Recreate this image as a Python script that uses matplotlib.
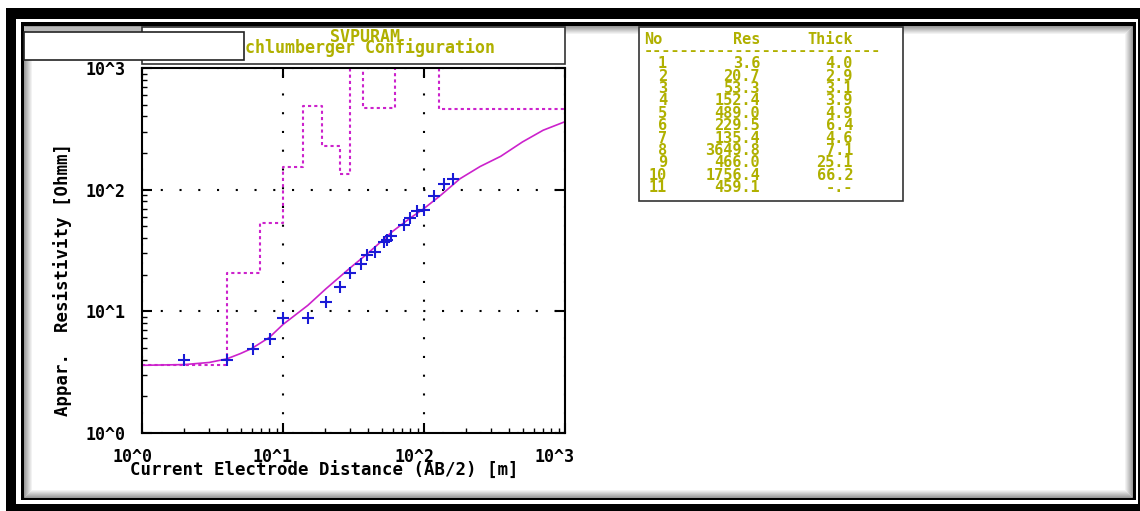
import matplotlib
matplotlib.use('Agg')
import matplotlib.pyplot as plt
import numpy as np
from matplotlib.patches import Rectangle
from matplotlib.ticker import FixedLocator, FixedFormatter, LogLocator, NullFormatter
from matplotlib.transforms import ScaledTranslation

# field data (AB/2 in m, apparent resistivity in Ohm m)
ab2 = [2.0, 4.0, 6.1, 8.1, 10.0, 15.1, 20.2, 25.5, 30.0, 35.6, 39.6, 45.2,
       52.0, 54.4, 58.3, 71.8, 80.0, 89.2, 100.5, 118.0, 139.0, 160.0]
rho_obs = [4.0, 4.0, 4.9, 5.9, 8.8, 8.8, 11.9, 15.9, 20.7, 24.5, 29.2, 30.9,
           37.2, 38.3, 41.3, 51.2, 58.9, 66.3, 68.5, 89.3, 112.0, 122.0]

# model response curve
fit_x = [1, 2, 3, 4, 5, 6, 8, 10, 15, 20, 30, 40, 60, 80, 100, 130, 180,
         250, 350, 500, 700, 1000]
fit_rho = [3.6, 3.65, 3.8, 4.07, 4.5, 4.95, 6.1, 7.8, 11.2, 15.2, 22.8, 30.0,
           45.5, 58.5, 70.0, 89.0, 123.0, 155.0, 188.0, 247.0, 308.0, 362.0]

# layer model (table)
layer_no = [1, 2, 3, 4, 5, 6, 7, 8, 9, 10, 11]
layer_res = [3.6, 20.7, 53.3, 152.4, 489.0, 229.5, 135.4, 3649.8, 466.0, 1756.4, 459.1]
layer_thick = [4.0, 2.9, 3.1, 3.9, 4.9, 6.4, 4.6, 7.1, 25.1, 66.2]

decade_ticks = [1, 10, 100, 1000]
decade_labels = ['10^0', '10^1', '10^2', '10^3']

plt.rcParams['font.family'] = ['DejaVu Sans Mono']
plt.rcParams['font.weight'] = 'bold'

W, H = 1140, 511
fig = plt.figure(figsize=(W / 100, H / 100), dpi=100)
olive = '#b0b000'
magenta = '#cc22cc'
fs = 12


def box(x0, y0, x1, y1, **kw):
    r = Rectangle((x0 / W, 1 - y1 / H), (x1 - x0) / W, (y1 - y0) / H,
                  transform=fig.transFigure, **kw)
    fig.add_artist(r)
    return r


def ftext(x, y, s, **kw):
    kw.setdefault('fontsize', fs)
    kw.setdefault('va', 'baseline')
    fig.text(x / W, 1 - y / H, s, **kw)


# window frame
box(6, 8, 1160, 530, facecolor='black', lw=0)
box(16, 19, 1138, 504, facecolor='white', lw=0)
box(20.5, 22.5, 1135.5, 500, facecolor='black', lw=0)
box(24, 26, 1132, 497, facecolor='white', lw=0)
for i in range(8):
    g = 0.6 + 0.05 * i
    box(24 + i, 26 + i, 1132 - i, 497 - i, fill=False, edgecolor=(g, g, g), lw=0.72)
box(24, 27, 142, 31, facecolor='#b8b8b8', lw=0)

# title box
box(142, 27, 565, 64, facecolor='white', edgecolor='#333333', lw=1.2)
ftext(365, 42.5, 'SVPURAM', ha='center', color=olive)
ftext(365, 53, 'Schlumberger Configuration', ha='center', color=olive)
box(24, 32, 244, 60, facecolor='white', edgecolor='#222222', lw=1.2, zorder=5)

# layer table
tfs = 11
box(639, 27, 903, 201, facecolor='white', edgecolor='#333333', lw=1.2)
ftext(644, 44, 'No', ha='left', color=olive, fontsize=tfs)
ftext(760, 44, 'Res', ha='right', color=olive, fontsize=tfs)
ftext(853, 44, 'Thick', ha='right', color=olive, fontsize=tfs)
ftext(644, 55, '-' * 26, ha='left', color=olive, fontsize=tfs)
for i, (n, r) in enumerate(zip(layer_no, layer_res)):
    yb = 68.3 + 12.37 * i
    t = '%.1f' % layer_thick[i] if i < len(layer_thick) else '-.-'
    ftext(667, yb, str(n), ha='right', color=olive, fontsize=tfs)
    ftext(760, yb, '%.1f' % r, ha='right', color=olive, fontsize=tfs)
    ftext(853, yb, t, ha='right', color=olive, fontsize=tfs)

# sounding plot
ax = fig.add_axes([142 / W, 1 - 433 / H, (565 - 142) / W, (433 - 68) / H])
ax.set_zorder(3)
ax.set_xscale('log')
ax.set_yscale('log')
ax.set_xlim(1, 1000)
ax.set_ylim(1, 1000)

depths = np.cumsum(layer_thick)
step_x = [1] + list(depths) + [1000]
step_y = layer_res + [layer_res[-1]]
ax.step(step_x, step_y, where='post', color=magenta, lw=1.5, ls=(0, (1.5, 1.5)))
ax.plot(fit_x, fit_rho, color=magenta, lw=1.2)
ax.plot(ab2, rho_obs, '+', color='#1a1ad6', ms=9, mew=1.5)

ax.grid(True, which='major', color='black', ls=(0, (1, 8)), lw=1.5)
for s in ax.spines.values():
    s.set_linewidth(1.5)
    s.set_color('black')

for axis in (ax.xaxis, ax.yaxis):
    axis.set_major_locator(FixedLocator(decade_ticks))
    axis.set_major_formatter(FixedFormatter(decade_labels))
    axis.set_minor_locator(LogLocator(base=10, subs=np.arange(2, 10)))
    axis.set_minor_formatter(NullFormatter())

ax.tick_params(which='major', direction='in', length=7, width=1.5,
               top=True, right=True, labelsize=fs, pad=12)
ax.tick_params(axis='x', which='major', pad=11)
ax.tick_params(which='minor', direction='in', length=3.5, width=1,
               top=False, right=False)

for lbl in ax.get_xticklabels():
    lbl.set_transform(lbl.get_transform() + ScaledTranslation(-0.10, 0, fig.dpi_scale_trans))

ftext(324, 476, 'Current Electrode Distance (AB/2) [m]', ha='center', fontsize=12.5)
ftext(63, 280, 'Appar.  Resistivity [Ohmm]', rotation=90, ha='center', va='center',
      fontsize=12.5)

fig.savefig('out.png', dpi=100)
